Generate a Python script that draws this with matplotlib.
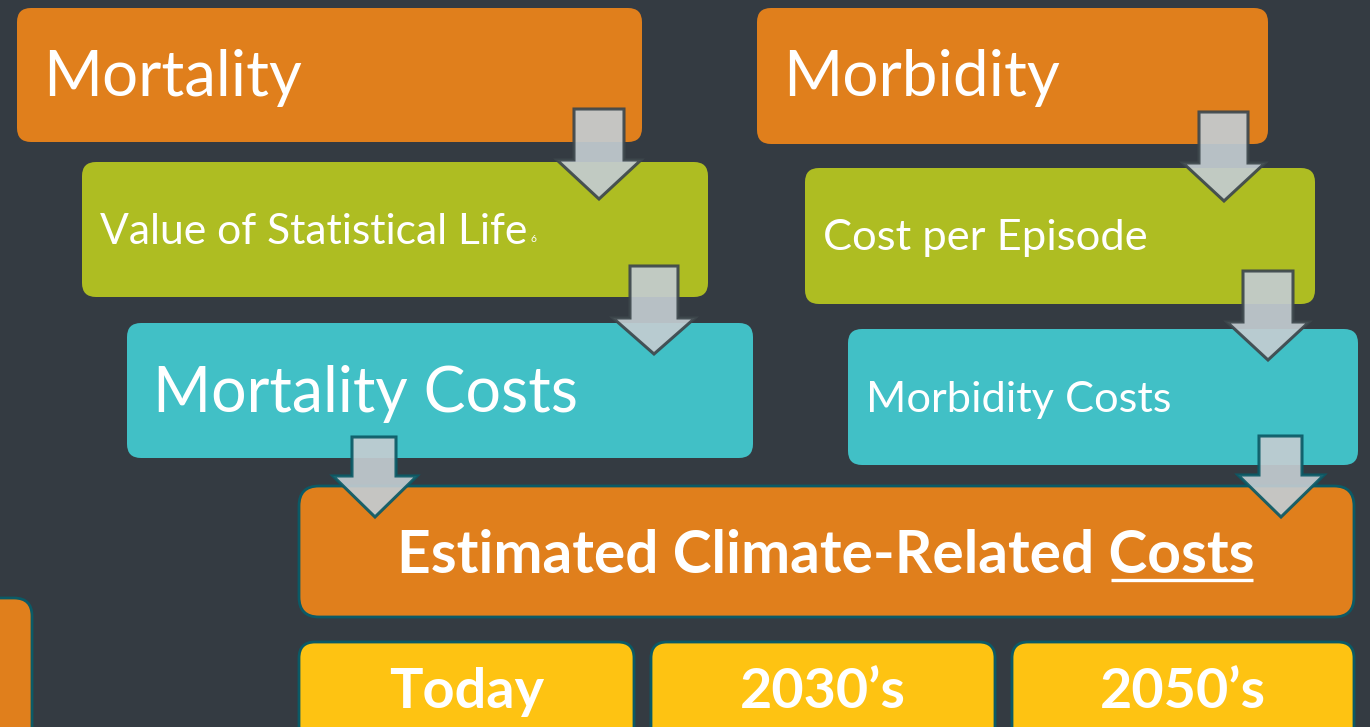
import matplotlib
matplotlib.use('Agg')
import matplotlib.pyplot as plt
from matplotlib.patches import FancyBboxPatch, Polygon

# ---- content ----
top_labels = ["Mortality", "Morbidity"]
mid_labels = ["Value of Statistical Life", "Cost per Episode"]
cost_labels = ["Mortality Costs", "Morbidity Costs"]
result_prefix = "Estimated Climate-Related "
result_underlined = "Costs"
periods = ["Today", "2030\u2019s", "2050\u2019s"]
footnote = "6"

BG = '#343b42'
ORANGE = '#e07f1c'
GREEN = '#aebd22'
TEAL = '#41c0c6'
YELLOW = '#fec312'
EDGE = '#0b5a66'
ARROW_FILL = '#c3ccd1'

W, H = 1370, 727
fig = plt.figure(figsize=(13.7, 7.27), dpi=100)
fig.patch.set_facecolor(BG)
ax = fig.add_axes([0, 0, 1, 1])
ax.set_xlim(0, W)
ax.set_ylim(H, 0)
ax.axis('off')
ax.set_facecolor(BG)
renderer = fig.canvas.get_renderer()
FONT = 'Lato'


def box(x0, y0, x1, y1, color, r=14, edge=None, lw=0, z=1):
    p = FancyBboxPatch((x0, y0), x1 - x0, y1 - y0,
                       boxstyle=f"round,pad=0,rounding_size={r}",
                       facecolor=color, edgecolor=edge if edge else 'none',
                       linewidth=lw, zorder=z)
    ax.add_patch(p)


def arrow(sx0, sx1, top, htop, hx0, hx1, apex, edge, z=5):
    cx = (hx0 + hx1) / 2
    pts = [(sx0, top), (sx1, top), (sx1, htop), (hx1, htop), (cx, apex),
           (hx0, htop), (sx0, htop)]
    ax.add_patch(Polygon(pts, closed=True, facecolor=ARROW_FILL, alpha=0.92,
                         edgecolor=edge, linewidth=2.2, zorder=z, joinstyle='miter'))


def fit_text(x, y, s, target_w, ha='left', weight='normal', z=6):
    t = ax.text(x, y, s, ha=ha, va='center', color='white', fontsize=40,
                family=FONT, fontweight=weight, zorder=z)
    w = t.get_window_extent(renderer).width
    t.set_fontsize(40 * target_w / w)
    return t


# ---- boxes ----
box(17, 8, 642, 142, ORANGE)
box(757, 8, 1268, 144, ORANGE)
box(82, 162, 708, 297, GREEN)
box(805, 168, 1315, 304, GREEN)
box(127, 323, 753, 458, TEAL)
box(848, 329, 1358, 465, TEAL)
box(299, 486, 1354, 617, ORANGE, r=20, edge=EDGE, lw=2)
box(-40, 598, 32, 760, ORANGE, r=18, edge=EDGE, lw=2)
period_x = [(299, 634), (651, 995), (1012, 1354)]
for (a, b) in period_x:
    box(a, 642, b, 760, YELLOW, r=16, edge=EDGE, lw=2)

# ---- arrows ----
arrow(574, 624, 109, 160, 557, 641, 199, '#3d474c')
arrow(630, 678, 266, 318, 613, 695, 354, '#3d474c')
arrow(1199, 1248, 112, 163, 1183, 1265, 201, '#3d474c')
arrow(1243, 1293, 271, 322, 1227, 1309, 360, '#3d474c')
arrow(352, 396, 437, 476, 333, 417, 517, EDGE)
arrow(1259, 1302, 436, 475, 1238, 1324, 517, EDGE)

# ---- texts ----
fit_text(43, 78, top_labels[0], 259)
fit_text(783, 78, top_labels[1], 277)
fit_text(100, 232, mid_labels[0], 428)
fit_text(823, 238, mid_labels[1], 324)
fit_text(153, 394, cost_labels[0], 425)
fit_text(866, 400, cost_labels[1], 306)
ax.text(531, 240, footnote, color='white', fontsize=7.5, family=FONT,
        va='center', ha='left', zorder=6)

# result text with underline on "Costs"
t = fit_text(826, 556, result_prefix + result_underlined, 857, ha='center', weight='bold')
bb = t.get_window_extent(renderer)
t2 = ax.text(0, 0, result_underlined, fontsize=t.get_fontsize(), family=FONT,
             fontweight='bold', alpha=0)
w2 = t2.get_window_extent(renderer).width
t2.remove()
x_right = bb.x1
inv = ax.transData.inverted()
xr, _ = inv.transform((x_right, 0))
xl, _ = inv.transform((x_right - w2, 0))
ax.plot([xl + 2, xr - 2], [580, 580], color='white', lw=2.4, zorder=6,
        solid_capstyle='butt')

period_w = [155, 166, 166]
for (a, b), lab, pw in zip(period_x, periods, period_w):
    fit_text((a + b) / 2, 692, lab, pw, ha='center', weight='bold')

fig.savefig('out.png', dpi=100, facecolor=BG)
